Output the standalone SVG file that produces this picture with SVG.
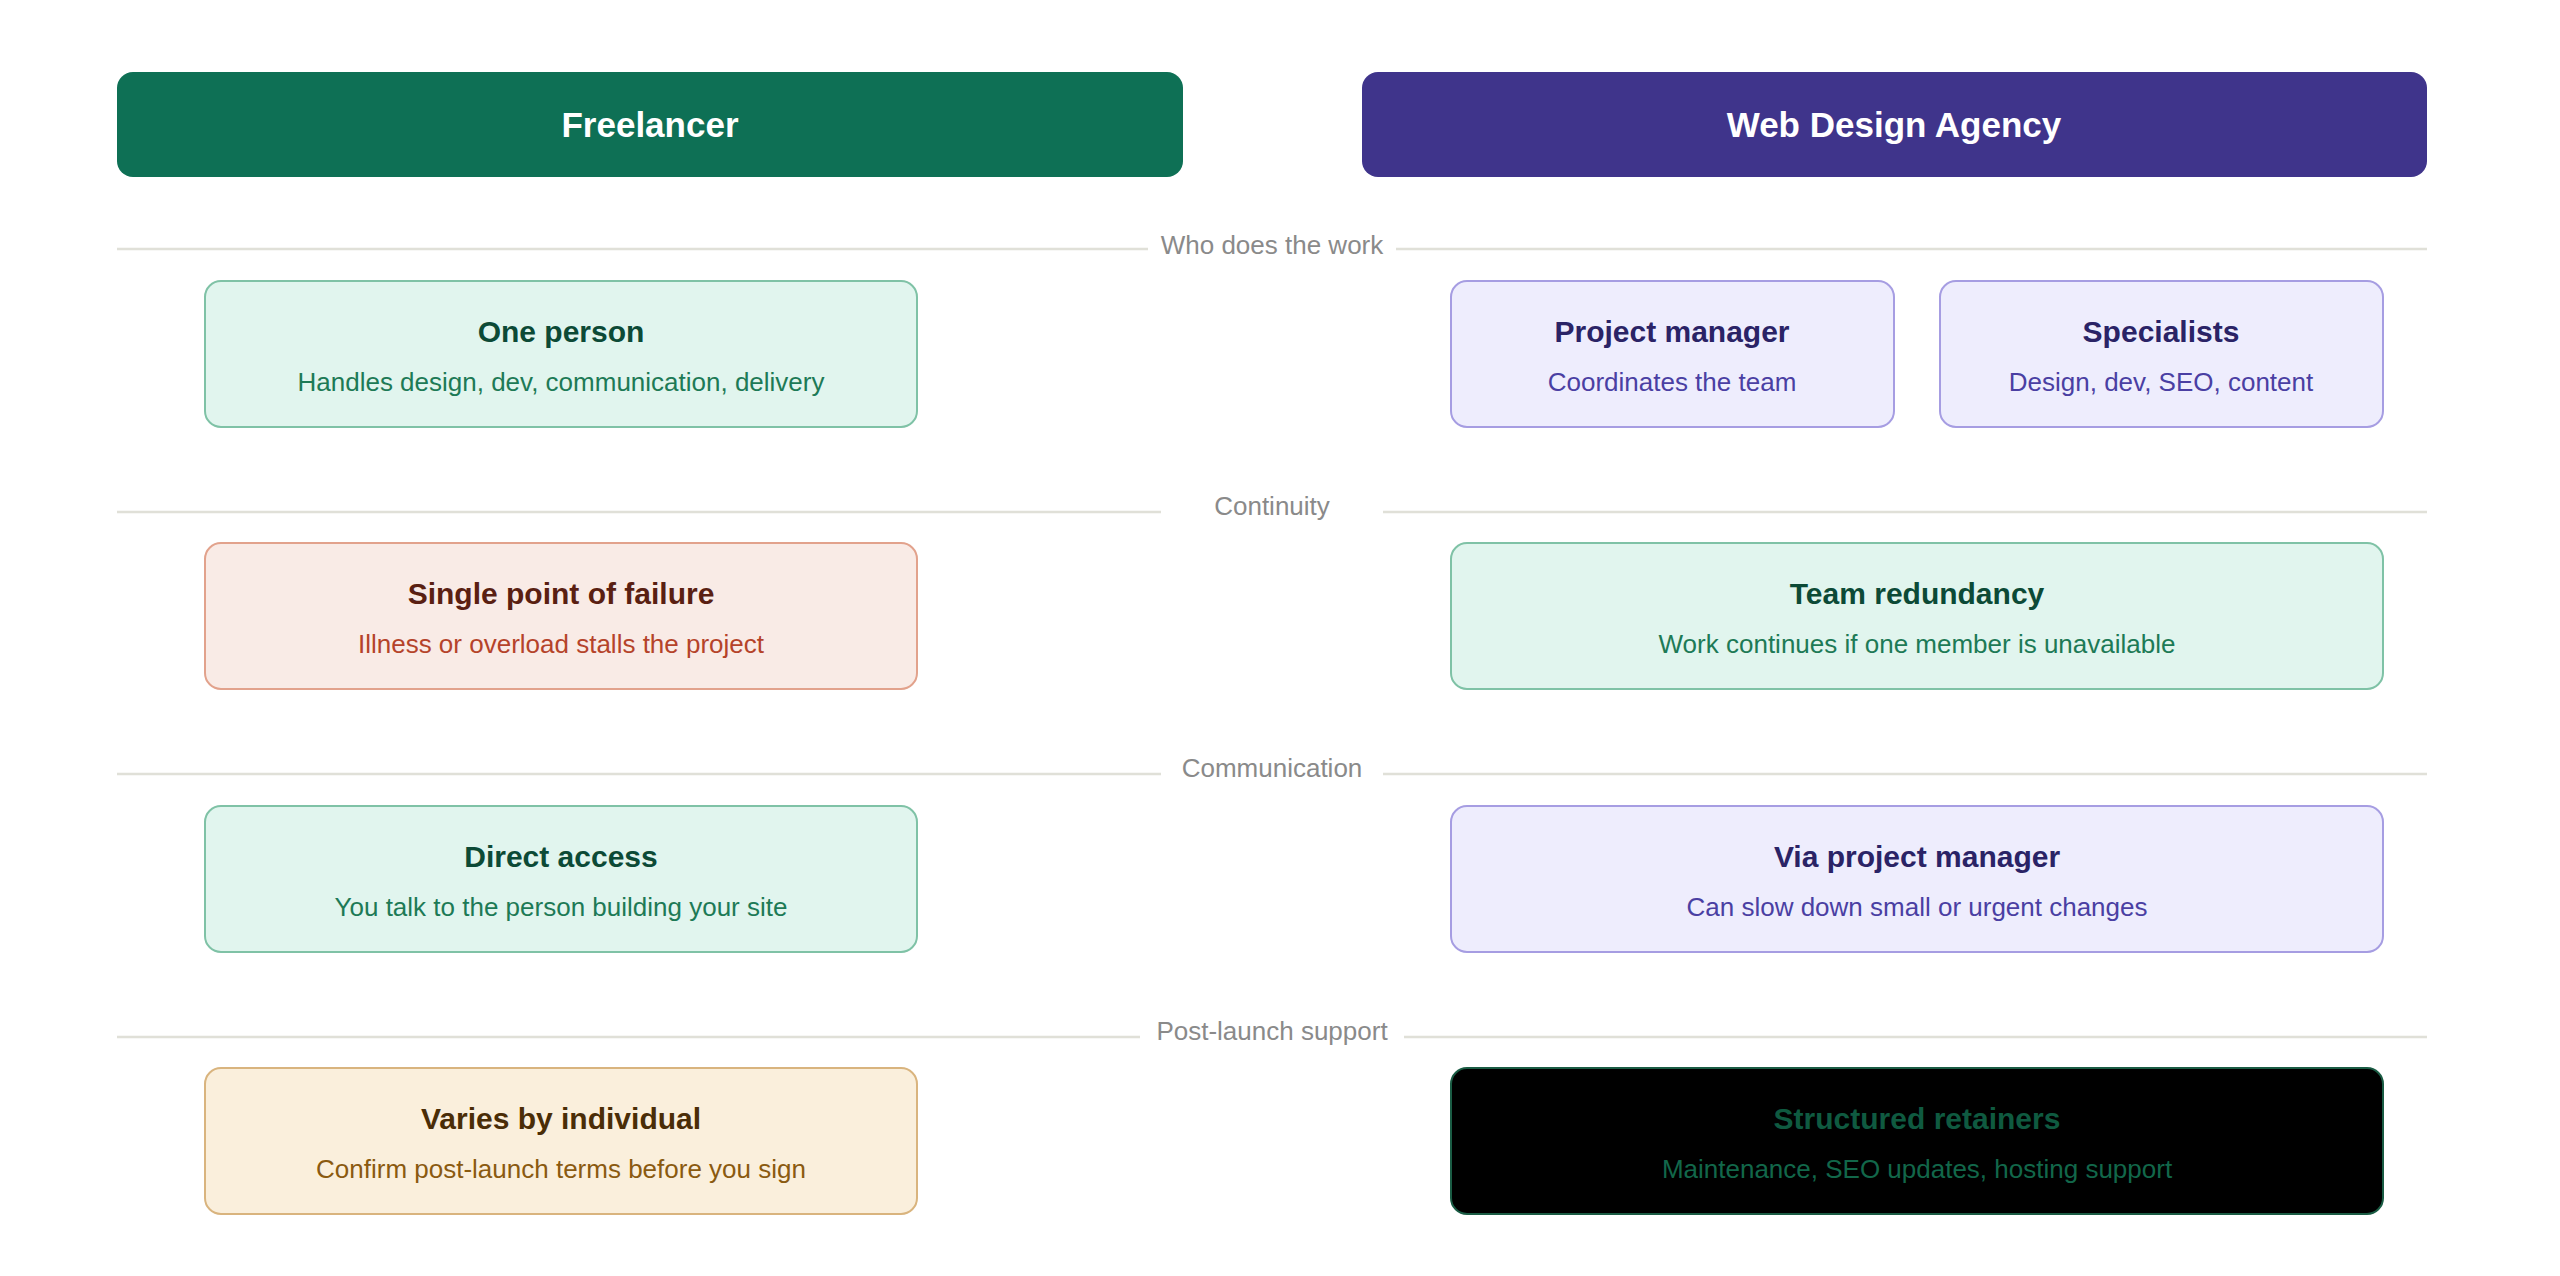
<svg xmlns="http://www.w3.org/2000/svg" width="2560" height="1276" viewBox="0 0 2560 1276">
<style>
text{font-family:"Liberation Sans",Arial,sans-serif;text-anchor:middle;dominant-baseline:central}
.hd{font-size:35px;font-weight:bold;fill:#fff}
.t{font-size:30px;font-weight:bold}
.s{font-size:26px}
.lbl{font-size:26px;fill:#8a8a8a}
.div{stroke:#e0e0d8;stroke-width:2.5}
.g rect{fill:#e1f5ee;stroke:#7fc2a6;stroke-width:2}.g .t{fill:#0c4a36}.g .s{fill:#1d7a56}
.p rect{fill:#eeedfd;stroke:#a69de2;stroke-width:2}.p .t{fill:#2a2366}.p .s{fill:#4a3fa3}
.r rect{fill:#f9ebe6;stroke:#e2a28c;stroke-width:2}.r .t{fill:#5a1f12}.r .s{fill:#b5432a}
.a rect{fill:#faefdc;stroke:#d9b47e;stroke-width:2}.a .t{fill:#4a2d07}.a .s{fill:#8a5a10}
.k rect{fill:#000;stroke:#1a5c44;stroke-width:2}.k .t{fill:#0f5a40}.k .s{fill:#12674a}
</style>
<rect width="2560" height="1276" fill="#fff"/>
<g id="freelancer-header"><rect x="117" y="72" width="1066" height="105" rx="16" fill="#0e7055"/><text class="hd" x="650" y="124">Freelancer</text></g>
<g id="agency-header"><rect x="1362" y="72" width="1065" height="105" rx="16" fill="#3f348b"/><text class="hd" x="1894" y="124">Web Design Agency</text></g>
<g id="dividers">
<line class="div" x1="117" y1="249" x2="1148" y2="249"/><line class="div" x1="1396" y1="249" x2="2427" y2="249"/><text class="lbl" x="1272" y="245">Who does the work</text>
<line class="div" x1="117" y1="512" x2="1161" y2="512"/><line class="div" x1="1383" y1="512" x2="2427" y2="512"/><text class="lbl" x="1272" y="506">Continuity</text>
<line class="div" x1="117" y1="774" x2="1161" y2="774"/><line class="div" x1="1383" y1="774" x2="2427" y2="774"/><text class="lbl" x="1272" y="768">Communication</text>
<line class="div" x1="117" y1="1037" x2="1140" y2="1037"/><line class="div" x1="1404" y1="1037" x2="2427" y2="1037"/><text class="lbl" x="1272" y="1031">Post-launch support</text>
</g>
<g id="one-person" class="g"><rect x="205" y="281" width="712" height="146" rx="16"/><text class="t" x="561" y="331">One person</text><text class="s" x="561" y="382">Handles design, dev, communication, delivery</text></g>
<g id="project-manager" class="p"><rect x="1451" y="281" width="443" height="146" rx="16"/><text class="t" x="1672" y="331">Project manager</text><text class="s" x="1672" y="382">Coordinates the team</text></g>
<g id="specialists" class="p"><rect x="1940" y="281" width="443" height="146" rx="16"/><text class="t" x="2161" y="331">Specialists</text><text class="s" x="2161" y="382">Design, dev, SEO, content</text></g>
<g id="single-point" class="r"><rect x="205" y="543" width="712" height="146" rx="16"/><text class="t" x="561" y="593">Single point of failure</text><text class="s" x="561" y="644">Illness or overload stalls the project</text></g>
<g id="team-redundancy" class="g"><rect x="1451" y="543" width="932" height="146" rx="16"/><text class="t" x="1917" y="593">Team redundancy</text><text class="s" x="1917" y="644">Work continues if one member is unavailable</text></g>
<g id="direct-access" class="g"><rect x="205" y="806" width="712" height="146" rx="16"/><text class="t" x="561" y="856">Direct access</text><text class="s" x="561" y="907">You talk to the person building your site</text></g>
<g id="via-pm" class="p"><rect x="1451" y="806" width="932" height="146" rx="16"/><text class="t" x="1917" y="856">Via project manager</text><text class="s" x="1917" y="907">Can slow down small or urgent changes</text></g>
<g id="varies" class="a"><rect x="205" y="1068" width="712" height="146" rx="16"/><text class="t" x="561" y="1118">Varies by individual</text><text class="s" x="561" y="1169">Confirm post-launch terms before you sign</text></g>
<g id="retainers" class="k"><rect x="1451" y="1068" width="932" height="146" rx="16"/><text class="t" x="1917" y="1118">Structured retainers</text><text class="s" x="1917" y="1169">Maintenance, SEO updates, hosting support</text></g>
<g id="connectors"/>
</svg>
